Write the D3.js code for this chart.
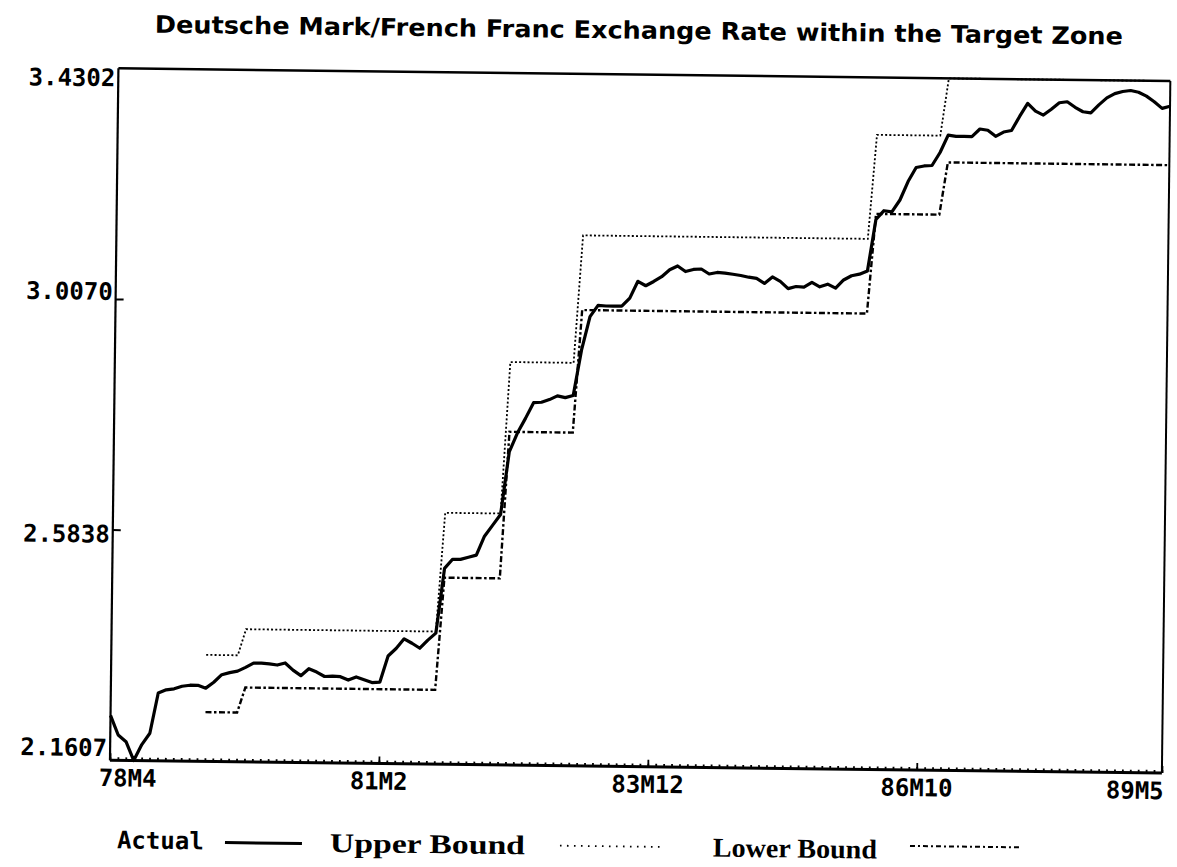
<!doctype html>
<html>
  <head>
    <script src="https://d3js.org/d3.v7.min.js" charset="utf-8"></script>
    <style>
      body { margin: 0; background: #fff; }
    </style>
  </head>
  <body>
    <script>

// monthly DM/FF rate, month 0 = 78M4 ... month 133 = 89M5
var actual = [
  2.243, 2.207, 2.195, 2.1607, 2.190, 2.211, 2.285, 2.291, 2.293, 2.298,
  2.300, 2.300, 2.295, 2.306, 2.320, 2.324, 2.327, 2.334, 2.342, 2.342,
  2.341, 2.339, 2.343, 2.330, 2.320, 2.333, 2.327, 2.319, 2.320, 2.319,
  2.313, 2.319, 2.314, 2.309, 2.310, 2.358, 2.372, 2.390, 2.382, 2.373,
  2.388, 2.401, 2.520, 2.537, 2.537, 2.541, 2.545, 2.580, 2.600, 2.620,
  2.735, 2.770, 2.797, 2.826, 2.827, 2.832, 2.839, 2.836, 2.840, 2.925,
  2.985, 3.006, 3.005, 3.005, 3.005, 3.020, 3.051, 3.043, 3.051, 3.060,
  3.073, 3.080, 3.070, 3.074, 3.075, 3.066, 3.069, 3.068, 3.066, 3.064,
  3.061, 3.059, 3.050, 3.062, 3.054, 3.041, 3.045, 3.044, 3.053, 3.045,
  3.050, 3.043, 3.058, 3.066, 3.069, 3.075, 3.170, 3.186, 3.184, 3.206,
  3.240, 3.266, 3.269, 3.270, 3.294, 3.326, 3.324, 3.324, 3.324, 3.338,
  3.336, 3.325, 3.333, 3.336, 3.362, 3.386, 3.372, 3.365, 3.376, 3.388,
  3.390, 3.380, 3.372, 3.370, 3.385, 3.398, 3.406, 3.410, 3.412, 3.409,
  3.402, 3.392, 3.380, 3.384
];

// target zone: month each band starts, and its upper / lower edge
var bandStart = [12, 17, 42, 50, 59, 96, 105];
var upperBound = [2.356, 2.404, 2.622, 2.900, 3.134, 3.325, 3.4302];
var lowerBound = [2.251, 2.297, 2.503, 2.772, 2.997, 3.180, 3.276];
var lastMonth = 133;

var xTickMonths = [0, 34, 68, 102, 133];
var xTickLabels = ["78M4", "81M2", "83M12", "86M10", "89M5"];
var yTicks = [2.1607, 2.5838, 3.0070, 3.4302];
var yTickLabels = ["2.1607", "2.5838", "3.0070", "3.4302"];

var W = 1177, H = 867;
var plotL = 114, plotR = 1166, plotT = 74, plotB = 766;

var svg = d3.select("body")
  .append("svg")
    .attr("width", W)
    .attr("height", H)
    .style("background", "#fff");

// the scanned page sits a little crooked, so turn everything slightly
var g = svg.append("g")
  .attr("transform", "rotate(0.7, 588, 433)");

var x = d3.scaleLinear().domain([0, lastMonth]).range([plotL, plotR]);
var y = d3.scaleLinear().domain([yTicks[0], yTicks[3]]).range([plotB, plotT]);

// title
g.append("text")
  .attr("x", 150)
  .attr("y", 38)
  .attr("textLength", 968)
  .attr("lengthAdjust", "spacingAndGlyphs")
  .style("font-family", "'DejaVu Sans', sans-serif")
  .style("font-weight", "bold")
  .style("font-size", "24px")
  .text("Deutsche Mark/French Franc Exchange Rate within the Target Zone");

// frame
var frame = g.append("g").attr("stroke", "#000").attr("fill", "none");
frame.append("line").attr("x1", plotL).attr("x2", plotR).attr("y1", plotT).attr("y2", plotT).attr("stroke-width", 2.5);
frame.append("line").attr("x1", plotL).attr("x2", plotL).attr("y1", plotT).attr("y2", plotB).attr("stroke-width", 2.2);
frame.append("line").attr("x1", plotR).attr("x2", plotR).attr("y1", plotT).attr("y2", plotB).attr("stroke-width", 2);
frame.append("line").attr("x1", plotL).attr("x2", plotR).attr("y1", plotB).attr("y2", plotB).attr("stroke-width", 3);

// bottom axis: a small tick every month, longer ones at the labels
var minorAxis = d3.axisTop(x)
  .tickValues(d3.range(0, lastMonth + 1))
  .tickSize(3)
  .tickFormat("");
var majorAxis = d3.axisTop(x)
  .tickValues(xTickMonths)
  .tickSize(7)
  .tickFormat("");

g.append("g").attr("transform", "translate(0," + plotB + ")").call(minorAxis)
  .call(function(a) { a.select(".domain").remove(); })
  .selectAll("line").attr("stroke-width", 1.8);
g.append("g").attr("transform", "translate(0," + plotB + ")").call(majorAxis)
  .call(function(a) { a.select(".domain").remove(); })
  .selectAll("line").attr("stroke-width", 1.8);

// x labels: first one hangs off the left edge, last one ends at the right edge
g.selectAll(".xlab")
  .data(xTickMonths)
  .enter()
  .append("text")
    .attr("class", "xlab")
    .attr("x", function(d, i) {
      if (i === 0) return x(d) - 11;
      if (i === xTickMonths.length - 1) return x(d) + 2;
      return x(d);
    })
    .attr("y", 792)
    .attr("text-anchor", function(d, i) {
      if (i === 0) return "start";
      if (i === xTickMonths.length - 1) return "end";
      return "middle";
    })
    .style("font-family", "'DejaVu Sans Mono', monospace")
    .style("font-weight", "bold")
    .style("font-size", "24px")
    .text(function(d, i) { return xTickLabels[i]; });

// left axis: inward ticks for the two middle values
var leftAxis = d3.axisRight(y)
  .tickValues(yTicks.slice(1, 3))
  .tickSize(8)
  .tickFormat("");
g.append("g").attr("transform", "translate(" + plotL + ",0)").call(leftAxis)
  .call(function(a) { a.select(".domain").remove(); })
  .selectAll("line").attr("stroke-width", 2);

g.selectAll(".ylab")
  .data(yTicks)
  .enter()
  .append("text")
    .attr("class", "ylab")
    .attr("x", plotL - 3)
    .attr("y", function(d, i) {
      if (i === 0) return y(d) - 4;
      if (i === yTicks.length - 1) return y(d) + 18;
      if (i === 2) return y(d) + 1;
      return y(d) + 13;
    })
    .attr("text-anchor", "end")
    .style("font-family", "'DejaVu Sans Mono', monospace")
    .style("font-weight", "bold")
    .style("font-size", "24px")
    .text(function(d, i) { return yTickLabels[i]; });

// bands as step lines
function bandPoints(vals) {
  var pts = [];
  bandStart.forEach(function(s, i) {
    var e = i < bandStart.length - 1 ? bandStart[i + 1] - 1 : lastMonth;
    pts.push([s, vals[i]]);
    pts.push([e, vals[i]]);
  });
  return pts;
}

var line = d3.line()
  .x(function(d) { return x(d[0]); })
  .y(function(d) { return y(d[1]); });

g.append("path")
  .datum(bandPoints(upperBound))
  .attr("d", line)
  .attr("fill", "none")
  .attr("stroke", "#000")
  .attr("stroke-width", 1.8)
  .attr("stroke-dasharray", "2,2.2");

g.append("path")
  .datum(bandPoints(lowerBound))
  .attr("d", line)
  .attr("fill", "none")
  .attr("stroke", "#000")
  .attr("stroke-width", 2.4)
  .attr("stroke-dasharray", "6,2.5,2.5,2.5");

g.append("path")
  .datum(actual.map(function(v, i) { return [i, v]; }))
  .attr("d", line)
  .attr("fill", "none")
  .attr("stroke", "#000")
  .attr("stroke-width", 3.2)
  .attr("stroke-linejoin", "round");

// legend
var leg = g.append("g");
leg.append("text")
  .attr("x", 122).attr("y", 854)
  .style("font-family", "'DejaVu Sans Mono', monospace")
  .style("font-weight", "bold")
  .style("font-size", "24px")
  .text("Actual");
leg.append("line")
  .attr("x1", 230).attr("x2", 307).attr("y1", 847).attr("y2", 847)
  .attr("stroke", "#000").attr("stroke-width", 3);

leg.append("text")
  .attr("x", 335).attr("y", 855)
  .attr("textLength", 195)
  .attr("lengthAdjust", "spacingAndGlyphs")
  .style("font-family", "'Liberation Serif', serif")
  .style("font-weight", "bold")
  .style("font-size", "27px")
  .text("Upper Bound");
leg.append("line")
  .attr("x1", 565).attr("x2", 667).attr("y1", 846).attr("y2", 846)
  .attr("stroke", "#000").attr("stroke-width", 1.8)
  .attr("stroke-dasharray", "1.6,5.4");

leg.append("text")
  .attr("x", 718).attr("y", 855)
  .attr("textLength", 164)
  .attr("lengthAdjust", "spacingAndGlyphs")
  .style("font-family", "'Liberation Serif', serif")
  .style("font-weight", "bold")
  .style("font-size", "27px")
  .text("Lower Bound");
leg.append("line")
  .attr("x1", 915).attr("x2", 1025).attr("y1", 842).attr("y2", 842)
  .attr("stroke", "#000").attr("stroke-width", 2)
  .attr("stroke-dasharray", "5,3,2,3");

    </script>
  </body>
</html>
